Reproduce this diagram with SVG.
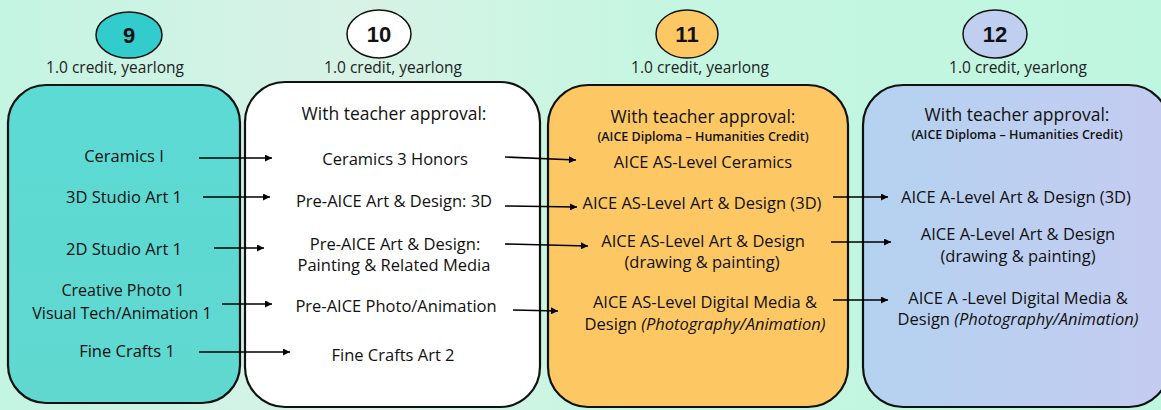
<svg xmlns="http://www.w3.org/2000/svg" width="1161" height="410" viewBox="0 0 1161 410">
<defs>
<linearGradient id="bg" x1="0" y1="0" x2="1" y2="0">
<stop offset="0" stop-color="#c4f4e2"/>
<stop offset="0.3" stop-color="#d8f2e6"/>
<stop offset="0.55" stop-color="#c6f6e2"/>
<stop offset="1" stop-color="#bff6e0"/>
</linearGradient>
<linearGradient id="teal" x1="0" y1="0" x2="0" y2="1">
<stop offset="0" stop-color="#5cdad4"/>
<stop offset="1" stop-color="#60d8d0"/>
</linearGradient>
<linearGradient id="blue" x1="0" y1="0" x2="1" y2="0">
<stop offset="0" stop-color="#b4d2f0"/>
<stop offset="1" stop-color="#c4ccf0"/>
</linearGradient>
<marker id="ah" viewBox="0 0 10 10" refX="10" refY="5" markerWidth="8" markerHeight="7" markerUnits="userSpaceOnUse" orient="auto">
<path d="M0,0 L10,5 L0,10 z" fill="#000"/>
</marker>
<style>
.box{stroke:#111;stroke-width:2.2}
.ell{stroke:#111;stroke-width:1.5}
.num{font-family:"Liberation Sans",Arial,sans-serif;font-weight:bold;font-size:22px;fill:#111;text-anchor:middle}
.cr{font-family:"Open Sans",sans-serif;font-size:15.5px;fill:#222;text-anchor:middle}
.t{font-family:"Open Sans",sans-serif;font-size:16.5px;fill:#111;text-anchor:middle}
.t2{font-size:16px}
.h{font-family:"Open Sans",sans-serif;font-size:17.5px;fill:#111;text-anchor:middle}
.s{font-family:"Open Sans",sans-serif;font-size:12.5px;font-weight:600;fill:#111;text-anchor:middle}
.i{font-style:italic}
.ar{stroke:#000;stroke-width:1.6;fill:none;marker-end:url(#ah)}
</style>
</defs>
<rect width="1161" height="410" fill="url(#bg)"/>

<g id="grade9">
<ellipse class="ell" cx="129" cy="35" rx="33" ry="23" fill="#33cccc"/>
<text class="num" x="129" y="43">9</text>
<text class="cr" x="115" y="73">1.0 credit, yearlong</text>
</g>
<g id="grade10">
<ellipse class="ell" cx="379" cy="34" rx="32" ry="24" fill="#ffffff"/>
<text class="num" x="379" y="42">10</text>
<text class="cr" x="393" y="73">1.0 credit, yearlong</text>
</g>
<g id="grade11">
<ellipse class="ell" cx="687" cy="34" rx="31" ry="24" fill="#fdc864"/>
<text class="num" x="687" y="42">11</text>
<text class="cr" x="700" y="73">1.0 credit, yearlong</text>
</g>
<g id="grade12">
<ellipse class="ell" cx="995" cy="34" rx="32" ry="24" fill="#c0cef0"/>
<text class="num" x="995" y="42">12</text>
<text class="cr" x="1018" y="73">1.0 credit, yearlong</text>
</g>

<g id="box9">
<rect class="box" x="8" y="85" width="232" height="318" rx="38" ry="38" fill="url(#teal)"/>
<text class="t" x="124" y="162">Ceramics I</text>
<text class="t" x="124" y="203">3D Studio Art 1</text>
<text class="t" x="124" y="255">2D Studio Art 1</text>
<text class="t t2" x="123" y="296">Creative Photo 1</text>
<text class="t t2" x="122" y="319">Visual Tech/Animation 1</text>
<text class="t" x="127" y="357">Fine Crafts 1</text>
</g>

<g id="box10">
<rect class="box" x="245" y="82" width="295" height="325" rx="40" ry="40" fill="#ffffff"/>
<text class="h" x="394" y="120">With teacher approval:</text>
<text class="t" x="395" y="165">Ceramics 3 Honors</text>
<text class="t" x="394" y="207">Pre-AICE Art &amp; Design: 3D</text>
<text class="t" x="395" y="250">Pre-AICE Art &amp; Design:</text>
<text class="t" x="394" y="271">Painting &amp; Related Media</text>
<text class="t" x="396" y="312">Pre-AICE Photo/Animation</text>
<text class="t" x="393" y="361">Fine Crafts Art 2</text>
</g>

<g id="box11">
<rect class="box" x="548" y="85" width="300" height="322" rx="40" ry="40" fill="#fdc864"/>
<text class="h" x="703" y="123">With teacher approval:</text>
<text class="s" x="703" y="141">(AICE Diploma – Humanities Credit)</text>
<text class="t" x="703" y="168">AICE AS-Level Ceramics</text>
<text class="t" x="702" y="209">AICE AS-Level Art &amp; Design (3D)</text>
<text class="t" x="703" y="247">AICE AS-Level Art &amp; Design</text>
<text class="t" x="702" y="268">(drawing &amp; painting)</text>
<text class="t" x="705" y="308">AICE AS-Level Digital Media &amp;</text>
<text class="t" x="705" y="330">Design <tspan class="i">(Photography/Animation)</tspan></text>
</g>

<g id="box12">
<rect class="box" x="863" y="85" width="306" height="322" rx="40" ry="40" fill="url(#blue)"/>
<text class="h" x="1017" y="121">With teacher approval:</text>
<text class="s" x="1017" y="139">(AICE Diploma – Humanities Credit)</text>
<text class="t" x="1016" y="203">AICE A-Level Art &amp; Design (3D)</text>
<text class="t" x="1018" y="240">AICE A-Level Art &amp; Design</text>
<text class="t" x="1018" y="262">(drawing &amp; painting)</text>
<text class="t" x="1018" y="304">AICE A -Level Digital Media &amp;</text>
<text class="t" x="1018" y="325">Design <tspan class="i">(Photography/Animation)</tspan></text>
</g>

<g id="connectors">
<line class="ar" x1="199" y1="158" x2="272" y2="158"/>
<line class="ar" x1="203" y1="197" x2="270" y2="197"/>
<line class="ar" x1="214" y1="248" x2="264" y2="248"/>
<line class="ar" x1="222" y1="304" x2="272" y2="304"/>
<line class="ar" x1="199" y1="352" x2="290" y2="352"/>
<line class="ar" x1="505" y1="157" x2="576" y2="160"/>
<line class="ar" x1="505" y1="206" x2="577" y2="207"/>
<line class="ar" x1="505" y1="244" x2="588" y2="246"/>
<line class="ar" x1="513" y1="310" x2="558" y2="311"/>
<line class="ar" x1="833" y1="197" x2="888" y2="197"/>
<line class="ar" x1="831" y1="242" x2="891" y2="242"/>
<line class="ar" x1="833" y1="300" x2="888" y2="300"/>
</g>
</svg>
